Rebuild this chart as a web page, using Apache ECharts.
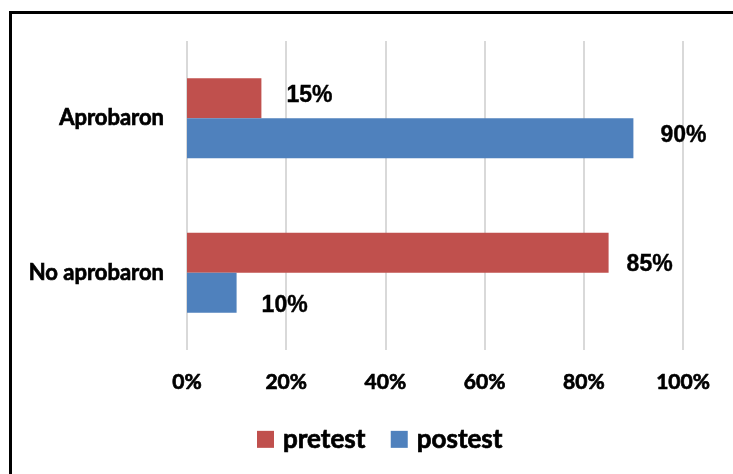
<!DOCTYPE html>
<html>
<head>
<meta charset="utf-8">
<script src="https://cdn.jsdelivr.net/npm/echarts@6/dist/echarts.min.js"></script>
<style>html,body{margin:0;padding:0;background:#fff;}#c{width:733px;height:474px;}</style>
</head>
<body>
<div id="c"></div>
<script>
const categories = ['No aprobaron', 'Aprobaron'];
const seriesNames = ['pretest', 'postest'];
const pretest = [85, 15];
const postest = [10, 90];
const xTicks = [0, 20, 40, 60, 80, 100];

const chart = echarts.init(document.getElementById('c'), null, {renderer: 'canvas'});
const axisFont = 'Lato';
const heavy = {textBorderColor: '#000', textBorderWidth: 0.7};
const labelStyle = Object.assign({show: true, position: 'right', distance: 0, formatter: '{c}%', color: '#000', fontFamily: 'Liberation Sans', fontWeight: 'bold', fontSize: 23}, {textBorderColor: '#000', textBorderWidth: 0.4});
const preOffsets = [[18, 12], [25, -3]];
const postOffsets = [[25, 13], [27, -3]];

chart.setOption({
  animation: false,
  backgroundColor: '#fff',
  graphic: [{
    type: 'rect', silent: true,
    shape: {x: 10.5, y: 12.5, width: 900, height: 900},
    style: {fill: 'none', stroke: '#000', lineWidth: 3}
  }],
  grid: {left: 187, right: 50, top: 41, bottom: 124, containLabel: false},
  legend: {
    data: seriesNames,
    left: 252, top: 421,
    itemWidth: 17, itemHeight: 17, itemGap: 25,
    icon: 'rect',
    textStyle: Object.assign({fontFamily: axisFont, fontWeight: 'bold', fontSize: 26, color: '#000', padding: [0, 0, 0, 4]}, heavy)
  },
  xAxis: {
    type: 'value', min: xTicks[0], max: xTicks[xTicks.length - 1], interval: 20,
    axisLine: {show: false}, axisTick: {show: false},
    splitLine: {show: true, lineStyle: {color: '#d9d9d9', width: 2}},
    axisLabel: Object.assign({formatter: '{value}%', margin: 22, color: '#000', fontFamily: axisFont, fontWeight: 'bold', fontSize: 21}, heavy)
  },
  yAxis: {
    type: 'category', data: categories,
    axisLine: {show: false}, axisTick: {show: false},
    axisLabel: Object.assign({margin: 23, color: '#000', fontFamily: axisFont, fontWeight: 'bold', fontSize: 22}, heavy)
  },
  series: [
    {
      name: 'pretest', type: 'bar', barWidth: 40, barGap: '0%',
      itemStyle: {color: '#C0504D'},
      label: labelStyle,
      data: pretest.map((v, i) => ({value: v, label: {offset: preOffsets[i]}}))
    },
    {
      name: 'postest', type: 'bar', barWidth: 40, barGap: '0%',
      itemStyle: {color: '#4F81BD'},
      label: labelStyle,
      data: postest.map((v, i) => ({value: v, label: {offset: postOffsets[i]}}))
    }
  ]
});
</script>
</body>
</html>
